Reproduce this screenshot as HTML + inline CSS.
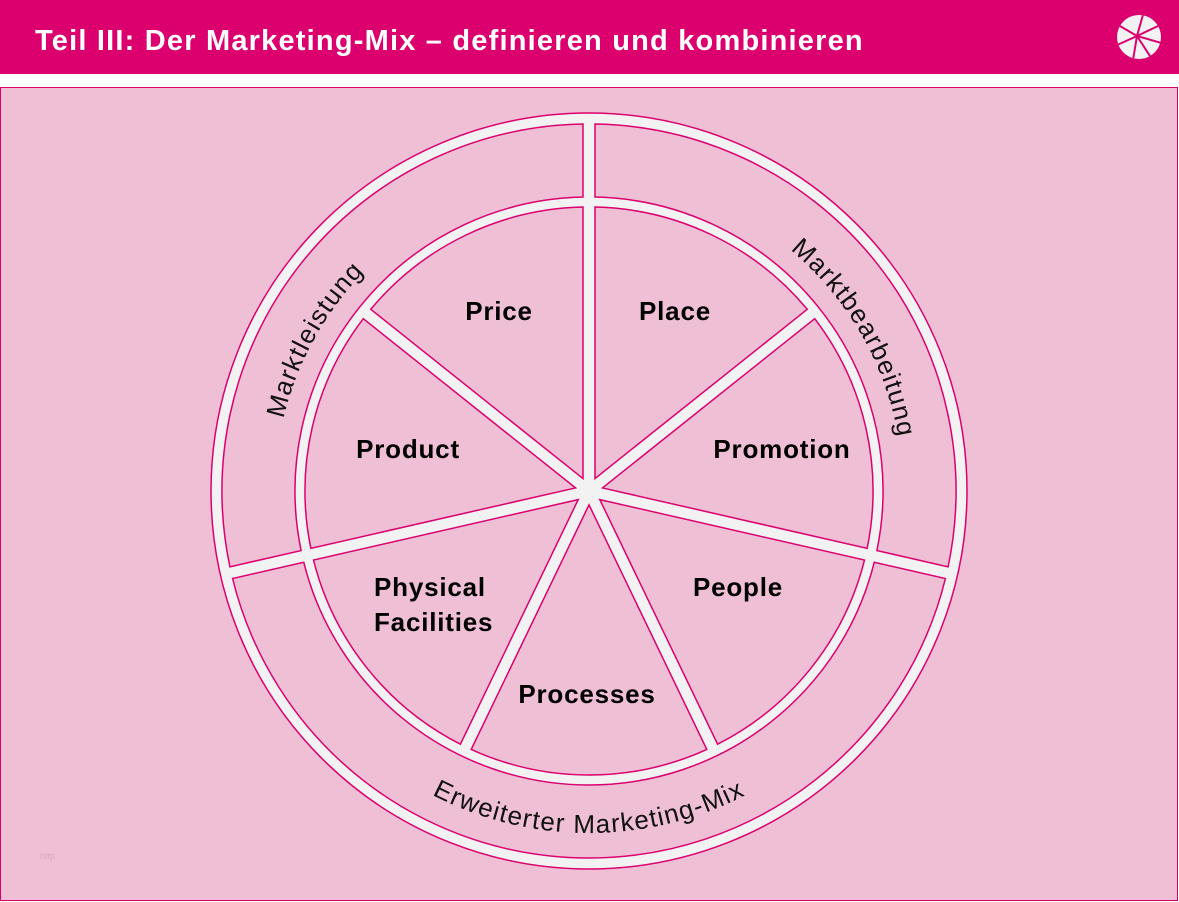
<!DOCTYPE html>
<html><head><meta charset="utf-8"><style>
html,body{margin:0;padding:0;width:1179px;height:902px;overflow:hidden;background:#fff}
</style></head><body>
<svg id="s" width="1179" height="902" viewBox="0 0 1179 902" xmlns="http://www.w3.org/2000/svg" font-family="'Liberation Sans',sans-serif">
<rect x="0" y="0" width="1179" height="74" fill="#dc006e"/>
<text x="35" y="50" fill="#fff" font-size="29" font-weight="bold" letter-spacing="1.2">Teil III: Der Marketing-Mix – definieren und kombinieren</text>
<g id="icon"></g>
<rect x="0.5" y="87.5" width="1177" height="813" fill="#efc0d5" stroke="#dc006e" stroke-width="1"/>
<circle cx="589" cy="491" r="378" fill="#f2f2f2" stroke="#dc006e" stroke-width="1.5"/>
<g id="sec" fill="#efc0d5" stroke="#dc006e" stroke-width="1.5"></g>
<defs>
<path id="pt" d="M275,491 A314,314 0 1 1 903,491 A314,314 0 1 1 275,491"/>
<path id="pb" d="M247,491 A342,342 0 0 0 931,491"/>
</defs>
<g font-size="26" fill="#111" font-weight="300" letter-spacing="1.2">
<text><textPath href="#pt" startOffset="158" text-anchor="middle">Marktleistung</textPath></text>
<text><textPath href="#pt" startOffset="822" text-anchor="middle">Marktbearbeitung</textPath></text>
<text><textPath href="#pb" startOffset="50%" text-anchor="middle">Erweiterter Marketing-Mix</textPath></text>
</g>
<g font-size="26" font-weight="bold" fill="#000" text-anchor="middle" letter-spacing="0.8">
<text x="499" y="320">Price</text>
<text x="675" y="320">Place</text>
<text x="408" y="458">Product</text>
<text x="782" y="458">Promotion</text>
<text x="738" y="596">People</text>
<text x="587" y="703">Processes</text>
<text x="374" y="596" text-anchor="start">Physical</text>
<text x="374" y="631" text-anchor="start">Facilities</text>
</g>
<text x="40" y="859" font-size="9" fill="#d9a8bf">http</text>
</svg>
<script>
var cx=589,cy=491,h=6,NS="http://www.w3.org/2000/svg";
function P(a,r,off){var d=[Math.cos(a),Math.sin(a)],n=[-Math.sin(a),Math.cos(a)];var t=Math.sqrt(r*r-off*off);return [cx+d[0]*t+n[0]*off,cy+d[1]*t+n[1]*off];}
function f(p){return p[0].toFixed(2)+","+p[1].toFixed(2);}
var step=2*Math.PI/7,base=-Math.PI/2,g=document.getElementById("sec");
function add(d){var e=document.createElementNS(NS,"path");e.setAttribute("d",d);g.appendChild(e);}
for(var k=0;k<7;k++){var a1=base+k*step,a2=a1+step,R=284;
var p1=P(a1,R,h),p2=P(a2,R,-h);var bis=(a1+a2)/2,dist=h/Math.sin(step/2);
var ap=[cx+Math.cos(bis)*dist,cy+Math.sin(bis)*dist];
add("M"+f(ap)+" L"+f(p1)+" A"+R+","+R+" 0 0 1 "+f(p2)+" Z");}
var dv=[-Math.PI/2, base+2*step, base+5*step];
var segs=[[dv[0],dv[1]],[dv[1],dv[2]],[dv[2],dv[0]+2*Math.PI]];
segs.forEach(function(s){var R=367,r=294;var a1=s[0],a2=s[1];
var o1=P(a1,R,h),o2=P(a2,R,-h),i2=P(a2,r,-h),i1=P(a1,r,h);
var large=(a2-a1)>Math.PI?1:0;
add("M"+f(o1)+" A"+R+","+R+" 0 "+large+" 1 "+f(o2)+" L"+f(i2)+" A"+r+","+r+" 0 "+large+" 0 "+f(i1)+" Z");});
var ic=document.getElementById("icon"),icx=1139,icy=37,ir=22;
var c=document.createElementNS(NS,"circle");c.setAttribute("cx",icx);c.setAttribute("cy",icy);c.setAttribute("r",ir);c.setAttribute("fill","#f2f2f2");ic.appendChild(c);
var ang=[-80,-30,15,60,105,160,210];
ang.forEach(function(d){var a=d*Math.PI/180;var l=document.createElementNS(NS,"line");l.setAttribute("x1",icx-2);l.setAttribute("y1",icy-1);l.setAttribute("x2",icx+Math.cos(a)*ir);l.setAttribute("y2",icy+Math.sin(a)*ir);l.setAttribute("stroke","#dc006e");l.setAttribute("stroke-width","2");ic.appendChild(l);});
</script>
</body></html>
